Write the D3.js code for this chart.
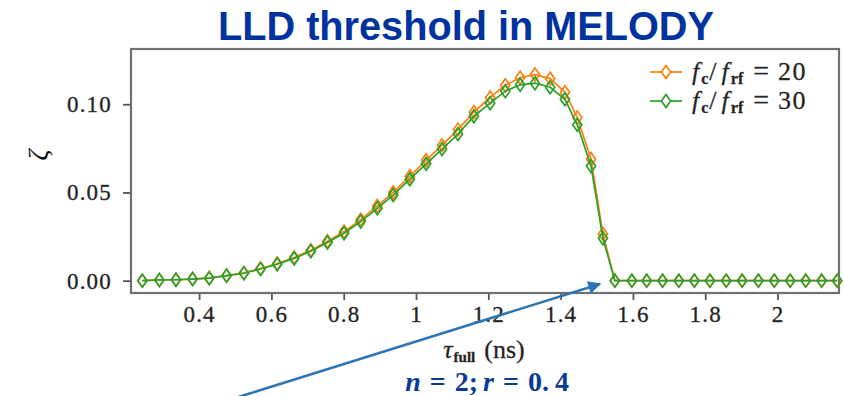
<!DOCTYPE html>
<html>
<head>
<meta charset="utf-8">
<script src="https://cdn.jsdelivr.net/npm/d3@7"></script>
<style>
  body { margin: 0; background: #fff; }
  svg { display: block; }
</style>
</head>
<body>
<svg id="chart" width="844" height="396"></svg>
<script>
// Full bunch length (ns) at which the threshold was evaluated
const tauFull = [0.243, 0.290, 0.336, 0.382, 0.428, 0.476, 0.524, 0.570, 0.616, 0.663,
                 0.709, 0.755, 0.801, 0.847, 0.893, 0.937, 0.983, 1.028, 1.072, 1.116,
                 1.160, 1.205, 1.247, 1.288, 1.329, 1.371, 1.412, 1.446, 1.484, 1.517,
                 1.550, 1.597, 1.638, 1.682, 1.727, 1.770, 1.813, 1.858, 1.902, 1.947,
                 1.991, 2.035, 2.078, 2.122, 2.165];

// LLD threshold ζ for f_c/f_rf = 20
const zetaRatio20 = [0.0000, 0.0004, 0.0005, 0.0009, 0.0015, 0.0029, 0.0044, 0.0069, 0.0097, 0.0131,
                     0.0173, 0.0223, 0.0278, 0.0346, 0.0423, 0.0500, 0.0592, 0.0682, 0.0768, 0.0856,
                     0.0955, 0.1038, 0.1108, 0.1150, 0.1168, 0.1145, 0.1068, 0.0925, 0.0690, 0.0265,
                     0, 0, 0, 0, 0, 0, 0, 0, 0, 0,
                     0, 0, 0, 0, 0];

// LLD threshold ζ for f_c/f_rf = 30
const zetaRatio30 = [0.0000, 0.0004, 0.0005, 0.0009, 0.0014, 0.0028, 0.0042, 0.0066, 0.0093, 0.0126,
                     0.0167, 0.0216, 0.0269, 0.0335, 0.0410, 0.0485, 0.0575, 0.0662, 0.0746, 0.0831,
                     0.0932, 0.1006, 0.1074, 0.1110, 0.1119, 0.1096, 0.1028, 0.0883, 0.0650, 0.0240,
                     0, 0, 0, 0, 0, 0, 0, 0, 0, 0,
                     0, 0, 0, 0, 0];

const ratioLabels = ["20", "30"];
const seriesColors = ["#ff7f0e", "#2ca02c"];
const xTickValues = [0.4, 0.6, 0.8, 1, 1.2, 1.4, 1.6, 1.8, 2];
const yTickValues = [0.00, 0.05, 0.10];

const svg = d3.select("#chart");
const serif = "'Liberation Serif', 'DejaVu Serif', serif";

const x = d3.scaleLinear().domain([0.2116, 2.170]).range([131, 839]);
const y = d3.scaleLinear().domain([-0.0070, 0.1313]).range([293, 49]);

// Title
svg.append("text")
  .attr("x", 466).attr("y", 40)
  .attr("text-anchor", "middle")
  .attr("font-family", "'Liberation Sans', Arial, sans-serif")
  .attr("font-weight", "bold")
  .attr("font-size", 41)
  .attr("textLength", 496)
  .attr("lengthAdjust", "spacingAndGlyphs")
  .attr("fill", "#0033a0")
  .text("LLD threshold in MELODY");

// Axes
const xAxis = svg.append("g")
  .attr("transform", `translate(0,${y.range()[0]})`)
  .call(d3.axisBottom(x).tickValues(xTickValues).tickSize(7).tickPadding(6)
        .tickFormat(d => String(d)));
const yAxis = svg.append("g")
  .attr("transform", `translate(${x.range()[0]},0)`)
  .call(d3.axisLeft(y).tickValues(yTickValues).tickSize(8).tickPadding(11)
        .tickFormat(d3.format(".2f")));

[xAxis, yAxis].forEach(g => {
  g.select(".domain").remove();
  g.selectAll(".tick line").attr("stroke", "#555").attr("stroke-width", 1.8);
  g.selectAll(".tick text")
    .attr("font-family", serif)
    .attr("font-size", 23)
    .attr("letter-spacing", 1.2)
    .attr("stroke", "#333")
    .attr("stroke-width", 0.35)
    .attr("fill", "#222");
});

// Plot frame
svg.append("rect")
  .attr("x", x.range()[0]).attr("y", y.range()[1])
  .attr("width", x.range()[1] - x.range()[0])
  .attr("height", y.range()[0] - y.range()[1])
  .attr("fill", "none")
  .attr("stroke", "#707070")
  .attr("stroke-width", 2.2);

// Series
const series = [zetaRatio20, zetaRatio30];
const line = d3.line().x(d => x(d[0])).y(d => y(d[1]));
const diamond = "M0,-6.5L4.6,0L0,6.5L-4.6,0Z";

series.forEach((vals, i) => {
  const pts = tauFull.map((t, j) => [t, vals[j]]);
  const g = svg.append("g");
  g.append("path")
    .datum(pts)
    .attr("d", line)
    .attr("fill", "none")
    .attr("stroke", seriesColors[i])
    .attr("stroke-width", 1.7);
  g.selectAll("path.marker")
    .data(pts)
    .join("path")
    .attr("class", "marker")
    .attr("d", diamond)
    .attr("transform", d => `translate(${x(d[0])},${y(d[1])})`)
    .attr("fill", "none")
    .attr("stroke", seriesColors[i])
    .attr("stroke-width", 1.7);
});

// Legend
const legend = svg.append("g").attr("transform", "translate(650,72)");
ratioLabels.forEach((lab, i) => {
  const row = legend.append("g").attr("transform", `translate(0,${i * 29})`);
  row.append("line")
    .attr("x1", 0).attr("x2", 32).attr("y1", 0).attr("y2", 0)
    .attr("stroke", seriesColors[i]).attr("stroke-width", 1.7);
  row.append("path")
    .attr("d", diamond)
    .attr("transform", "translate(16,0)")
    .attr("fill", "#fff")
    .attr("stroke", seriesColors[i]).attr("stroke-width", 1.7);
  const t = row.append("text")
    .attr("x", 42).attr("y", 8)
    .attr("font-family", serif)
    .attr("font-size", 26)
    .attr("stroke", "#333")
    .attr("stroke-width", 0.3)
    .attr("fill", "#222");
  t.append("tspan").attr("font-style", "italic").text("f");
  t.append("tspan").attr("font-size", 16).attr("font-weight", "bold").attr("dx", 2).attr("dy", 4).text("c");
  t.append("tspan").attr("dy", -4).attr("dx", 1).text("/");
  t.append("tspan").attr("font-style", "italic").attr("dx", 5).text("f");
  t.append("tspan").attr("font-size", 16).attr("font-weight", "bold").attr("dx", 2).attr("dy", 4).text("rf");
  t.append("tspan").attr("dy", -4).attr("dx", 10).attr("font-size", 28).text("=");
  t.append("tspan").attr("dx", 9).attr("letter-spacing", 1.5).text(lab);
});

// Axis labels
svg.append("text")
  .attr("transform", "translate(47,155) rotate(-90)")
  .attr("text-anchor", "middle")
  .attr("font-family", serif)
  .attr("font-style", "italic")
  .attr("font-size", 27)
  .attr("fill", "#111")
  .text("ζ");

const xl = svg.append("text")
  .attr("x", 484).attr("y", 358)
  .attr("text-anchor", "middle")
  .attr("font-family", serif)
  .attr("font-size", 26)
  .attr("stroke", "#333")
  .attr("stroke-width", 0.3)
  .attr("fill", "#222");
xl.append("tspan").attr("font-style", "italic").text("τ");
xl.append("tspan").attr("font-size", 15).attr("font-weight", "bold").attr("dx", 1).attr("dy", 4).text("full");
xl.append("tspan").attr("dy", -4).attr("dx", 9).text("(ns)");

// Parameter note
const note = svg.append("text")
  .attr("x", 487).attr("y", 391)
  .attr("text-anchor", "middle")
  .attr("font-family", serif)
  .attr("font-weight", "bold")
  .attr("font-size", 28)
  .attr("fill", "#0b3a94");
note.append("tspan").attr("font-style", "italic").text("n");
note.append("tspan").attr("dx", 9).text("=");
note.append("tspan").attr("dx", 9).text("2;");
note.append("tspan").attr("dx", 5).attr("font-style", "italic").text("r");
note.append("tspan").attr("dx", 9).text("=");
note.append("tspan").attr("dx", 9).text("0.");
note.append("tspan").attr("dx", 6).text("4");

// Pointer arrow toward the drop-off
const defs = svg.append("defs");
defs.append("marker")
  .attr("id", "arrowHead")
  .attr("viewBox", "0 0 10 10")
  .attr("refX", 9).attr("refY", 5)
  .attr("markerWidth", 6.5).attr("markerHeight", 5)
  .attr("markerUnits", "strokeWidth")
  .attr("orient", "auto")
  .append("path")
  .attr("d", "M0,0L10,5L0,10Z")
  .attr("fill", "#2e75b6");
svg.append("line")
  .attr("x1", 232).attr("y1", 399)
  .attr("x2", 600).attr("y2", 284)
  .attr("stroke", "#2e75b6")
  .attr("stroke-width", 2.6)
  .attr("marker-end", "url(#arrowHead)");
</script>
</body>
</html>
